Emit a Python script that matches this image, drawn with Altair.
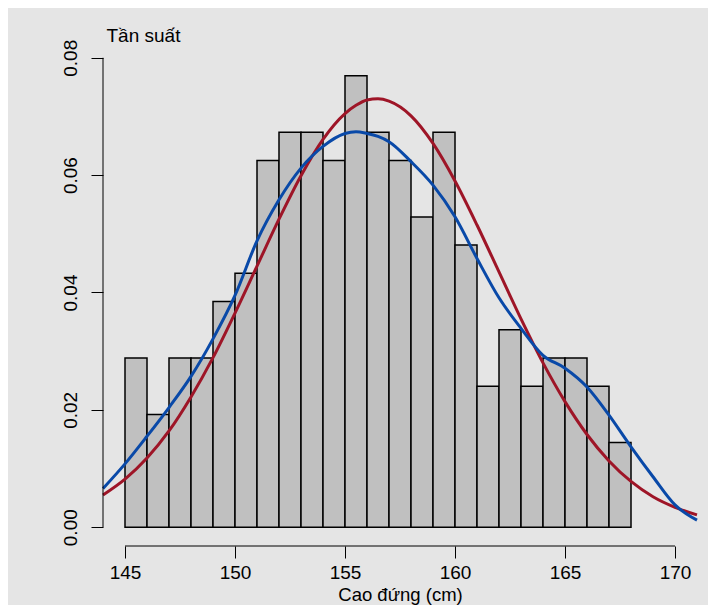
import altair as alt
import pandas as pd

# Histogram: bins of width 1 cm from 145 to 168, counts per bin (n = 208)
bin_start = list(range(145, 168))
counts = [6, 4, 6, 6, 8, 9, 13, 14, 14, 13, 16, 14, 13, 11, 14, 10, 5, 7, 5, 6, 6, 5, 3]

# Curves
curve_x = [144, 145, 146, 147, 148, 149, 150, 151, 152, 153, 154, 155, 155.5, 156, 156.5,
           157, 158, 159, 160, 161, 162, 163, 164, 165, 166, 167, 168, 169, 170, 171]
normal_y = [0.0055, 0.0082, 0.0118, 0.0164, 0.0222, 0.0289, 0.0365, 0.0445, 0.0525, 0.0599,
            0.0661, 0.0705, 0.0719, 0.0728, 0.0730, 0.0726, 0.0701, 0.0654, 0.0590, 0.0515,
            0.0435, 0.0355, 0.0280, 0.0214, 0.0158, 0.0113, 0.0078, 0.0052, 0.0034, 0.0021]
kde_y = [0.0066, 0.0108, 0.0155, 0.0204, 0.0257, 0.0321, 0.0395, 0.0488, 0.0558, 0.0612,
         0.0649, 0.0671, 0.0674, 0.0671, 0.0666, 0.0657, 0.0623, 0.0583, 0.0529, 0.0458,
         0.0391, 0.0339, 0.0293, 0.0271, 0.0239, 0.0191, 0.0137, 0.0086, 0.0038, 0.0012]

x_ticks = [145, 150, 155, 160, 165, 170]
y_ticks = [0.0, 0.02, 0.04, 0.06, 0.08]

total = sum(counts)
hist_df = pd.DataFrame({
    "start": bin_start,
    "end": [b + 1 for b in bin_start],
    "density": [c / total for c in counts],
})
norm_df = pd.DataFrame({"x": curve_x, "y": normal_y})
kde_df = pd.DataFrame({"x": curve_x, "y": kde_y})
yline_df = pd.DataFrame({"y0": [y_ticks[0]], "y1": [y_ticks[-1]]})
xline_df = pd.DataFrame({"x0": [x_ticks[0]], "x1": [x_ticks[-1]]})

FONT = "Liberation Sans"
xscale = alt.Scale(domain=[144, 171], nice=False, zero=False)
yscale = alt.Scale(domain=[-0.0032, 0.0832], nice=False, zero=False)

xaxis = alt.Axis(
    values=x_ticks, domain=False, grid=False, tickSize=12, tickColor="black", tickWidth=1,
    labelFontSize=19, labelFont=FONT, labelColor="black", labelPadding=5,
    labelFlush=False, labelOverlap=False,
    title="Cao đứng (cm)", titleFontSize=18.5, titleFont=FONT, titleFontWeight="normal",
    titleColor="black", titleBaseline="alphabetic", titleY=54.5,
)
yaxis = alt.Axis(
    values=y_ticks, format=".2f", domain=False, grid=False, tickSize=12, tickColor="black",
    tickWidth=1, labelFontSize=19, labelFont=FONT, labelColor="black", labelAngle=270,
    labelAlign="center", labelBaseline="alphabetic", labelPadding=15,
    labelFlush=False, labelOverlap=False,
    title="Tần suất", titleFontSize=19, titleFont=FONT, titleFontWeight="normal",
    titleColor="black", titleAngle=0, titleAlign="left", titleBaseline="alphabetic",
    titleX=3, titleY=2,
)

bars = alt.Chart(hist_df).mark_rect(fill="#c0c0c0", stroke="black", strokeWidth=1.5).encode(
    x=alt.X("start:Q", scale=xscale, axis=xaxis),
    x2="end:Q",
    y=alt.Y("density:Q", scale=yscale, axis=yaxis),
    y2=alt.datum(0),
)

red = alt.Chart(norm_df).mark_line(color="#9e1527", strokeWidth=3, interpolate="monotone").encode(
    x=alt.X("x:Q", scale=xscale), y=alt.Y("y:Q", scale=yscale)
)
blue = alt.Chart(kde_df).mark_line(color="#0949a8", strokeWidth=3, interpolate="monotone").encode(
    x=alt.X("x:Q", scale=xscale), y=alt.Y("y:Q", scale=yscale)
)

yline = alt.Chart(yline_df).mark_rule(color="black", strokeWidth=1).encode(
    x=alt.value(0), y=alt.Y("y0:Q", scale=yscale), y2="y1:Q"
)
xline = alt.Chart(xline_df).mark_rule(color="black", strokeWidth=1).encode(
    x=alt.X("x0:Q", scale=xscale), x2="x1:Q", y=alt.value(507)
)

chart = alt.layer(bars, red, blue, yline, xline).properties(
    width=594,
    height=507,
    autosize=alt.AutoSizeParams(type="none"),
    padding={"left": 95, "top": 31, "right": 11, "bottom": 59},
    background="#e5e5e5",
).configure_view(stroke=None)

chart.save("out.html", embed_options={"renderer": "svg", "actions": False})
